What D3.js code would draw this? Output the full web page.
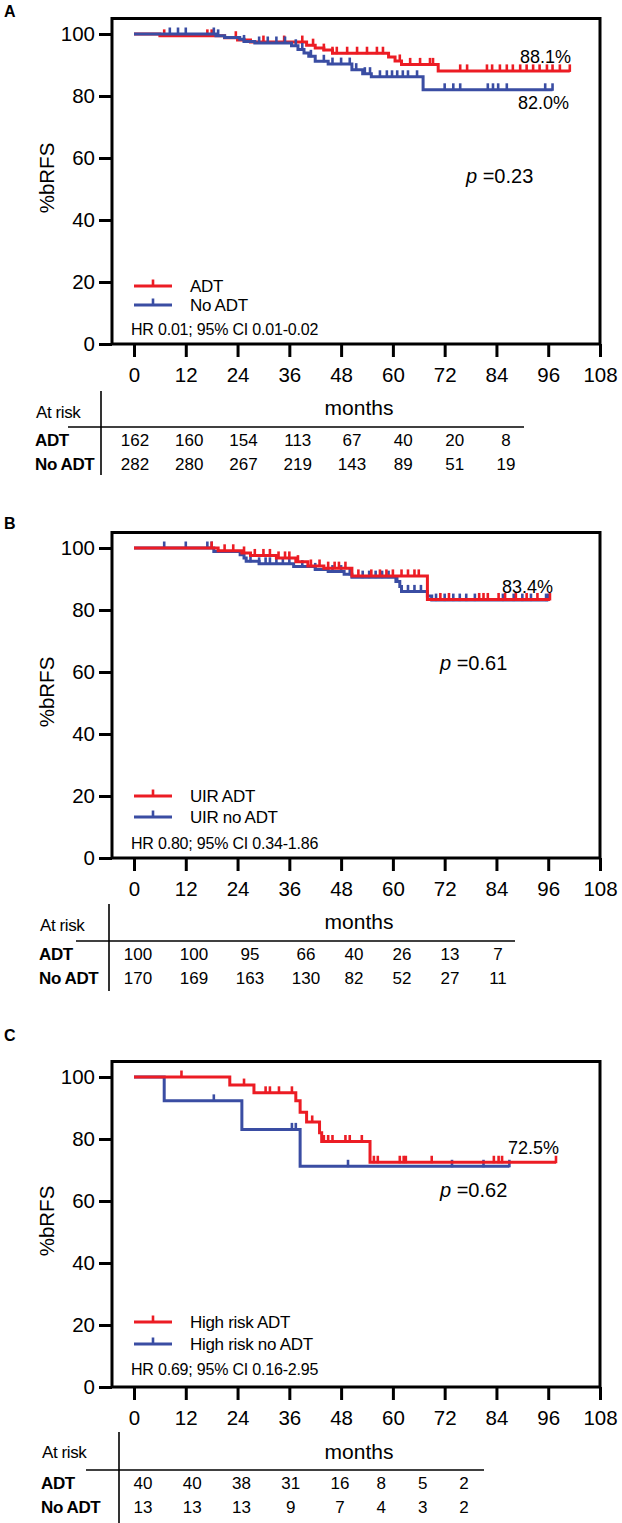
<!DOCTYPE html>
<html><head><meta charset="utf-8">
<script src="https://cdn.jsdelivr.net/npm/d3@7"></script>
<style>
body{margin:0;background:#fff}
svg text{font-family:"Liberation Sans",Arial,Helvetica,sans-serif;fill:#000}
</style></head><body>
<svg id="c" width="622" height="1523"></svg>
<script>
// ---------- data ----------
const monthTicks = [0,12,24,36,48,60,72,84,96,108];
const pctTicks = [0,20,40,60,80,100];
const riskMonths = [0,12,24,36,48,60,72,84];

// Panel A
const A_adtSteps = [[0,100],[6,99.4],[21,98.8],[24,98.1],[27,97.4],[40,96.4],[42,95.5],[44,94.8],[46,93.8],[59,92.6],[60.5,91.3],[62,90.2],[70.5,88.1]];
const A_adtEnd = 101;
const A_adtCens = [7,17,18,23.6,30,34.8,39,41.5,44,46,47,49.4,51.7,54,56.3,57.7,61.6,64,66.3,68.6,69.3,75.6,77.2,81.8,83,84.8,86.4,87.8,89.5,91,92.5,94,95.7,97,98.7,101];
const A_noSteps = [[0,100],[19,99.4],[21,98.9],[24.5,98.3],[25.5,97.6],[28,97.1],[36.5,96.2],[38,95.0],[39.4,93.9],[40.5,92.8],[42,91.2],[45,90.3],[50.5,88.5],[53,87.2],[55,86.2],[67,82.0]];
const A_noEnd = 97;
const A_noCens = [8.3,10.2,12,18.5,19.5,25.5,29,31,33,35,37.5,39,41,44,46,48,50,51.5,53.5,54.7,57,58.6,59.8,61,62.3,63.5,65.6,72,74,75.6,82,83.2,84.4,86.4,95.3,97];
const A_riskAdt = [162,160,154,113,67,40,20,8];
const A_riskNo = [282,280,267,219,143,89,51,19];

// Panel B
const B_adtSteps = [[0,100],[19.5,99.1],[25,98.4],[27,97.6],[33,96.8],[37.5,95.6],[40.3,94.2],[44,93.5],[50.5,91.0],[68,83.4]];
const B_adtEnd = 96.4;
const B_adtCens = [18,21,23,25.5,28,30,31.5,33.5,35,36,38,41,43,45,46.5,47.5,49,52,55,57,58.5,60,62,63.5,65,66,71,73,80,81,82,84.5,86,88.5,91,93.5,96.4];
const B_noSteps = [[0,100],[18.5,98.9],[24.6,97.8],[25.5,96.8],[26,95.7],[29,94.9],[37,94.0],[42,93.1],[45,92.4],[48.7,91.5],[50.5,90.6],[60.7,89.2],[61.6,87.6],[62,86.0],[68,84.5],[69,83.2]];
const B_noEnd = 96;
const B_noCens = [7,12,17,18,27,29,30.5,31.5,33,34.5,36,39,42,46,48,50,53,54.5,56,57.5,59,61,63.5,65,66.5,70,72,74,75.5,77,79,85.5,88,90,92,95.5,96];
const B_riskAdt = [100,100,95,66,40,26,13,7];
const B_riskNo = [170,169,163,130,82,52,27,11];

// Panel C
const C_adtSteps = [[0,100],[22.2,97.4],[27.8,94.9],[37.5,92.3],[38.5,88.6],[40,85.5],[43,82.0],[43.5,79.2],[54.7,72.5]];
const C_adtEnd = 97.8;
const C_adtCens = [11,25.5,30.5,31.5,33.6,36.6,41.3,44,45,46,49,50,52.8,55.6,56.5,61.6,62.5,63,69,83.4,84.5,85.3,97.8];
const C_noSteps = [[0,100],[7,92.3],[25,83.1],[38.5,71.2]];
const C_noEnd = 87;
const C_noCens = [18.5,36.6,37.5,49.6,73.7,81,87];
const C_riskAdt = [40,40,38,31,16,8,5,2];
const C_riskNo = [13,13,13,9,7,4,3,2];

// ---------- styling / layout ----------
const RED = "#EC1C24", BLUE = "#3A4DA3";
const panels = [
  {label:"A", y0:344, labelY:11,
   series:[{name:"ADT",steps:A_adtSteps,end:A_adtEnd,cens:A_adtCens,color:RED},
           {name:"No ADT",steps:A_noSteps,end:A_noEnd,cens:A_noCens,color:BLUE}],
   drawOrder:[0,1], legendDy:[-58,-39], hrDy:-15,
   hr:"HR 0.01; 95% CI 0.01-0.02", p:"=0.23", pX:466, pDy:-168,
   pcts:[{t:"88.1%",x:520,dy:-287},{t:"82.0%",x:518,dy:-241}],
   risk:[A_riskAdt,A_riskNo], vX:101, vTop:47, vBot:131, hl:[68,524], leftX:36,
   colDom:[0,48,84], colRange:[135,352,506], atRiskDy:68, monthsDy:64},
  {label:"B", y0:858, labelY:523,
   series:[{name:"UIR ADT",steps:B_adtSteps,end:B_adtEnd,cens:B_adtCens,color:RED},
           {name:"UIR no ADT",steps:B_noSteps,end:B_noEnd,cens:B_noCens,color:BLUE}],
   drawOrder:[1,0], legendDy:[-62,-41], hrDy:-15,
   hr:"HR 0.80; 95% CI 0.34-1.86", p:"=0.61", pX:440, pDy:-195,
   pcts:[{t:"83.4%",x:502,dy:-271}],
   risk:[B_riskAdt,B_riskNo], vX:109, vTop:46, vBot:133, hl:[76,515], leftX:40,
   colDom:[0,36,84], colRange:[138,306,498], atRiskDy:67, monthsDy:64},
  {label:"C", y0:1387, labelY:1035,
   series:[{name:"High risk ADT",steps:C_adtSteps,end:C_adtEnd,cens:C_adtCens,color:RED},
           {name:"High risk no ADT",steps:C_noSteps,end:C_noEnd,cens:C_noCens,color:BLUE}],
   drawOrder:[1,0], legendDy:[-65,-43], hrDy:-18,
   hr:"HR 0.69; 95% CI 0.16-2.95", p:"=0.62", pX:440, pDy:-197,
   pcts:[{t:"72.5%",x:508,dy:-239}],
   risk:[C_riskAdt,C_riskNo], vX:119, vTop:45, vBot:140, hl:[86,484], leftX:42,
   colDom:[0,48,84], colRange:[143,340,464], atRiskDy:65, monthsDy:65}
];

const svg = d3.select("#c");
const x = d3.scaleLinear().domain([0,108]).range([134,600]);
const FRAME_LEFT = -5.1, FRAME_TOP = 105;

panels.forEach(P => {
  const y = d3.scaleLinear().domain([0,100]).range([P.y0, P.y0-310]);
  const g = svg.append("g");

  g.append("text").attr("x",4).attr("y",P.labelY).attr("dy","0.35em")
    .attr("font-size",16).attr("font-weight","bold").text(P.label);

  // frame
  g.append("rect").attr("x",x(FRAME_LEFT)).attr("y",y(FRAME_TOP))
    .attr("width",x(108)-x(FRAME_LEFT)).attr("height",y(0)-y(FRAME_TOP))
    .attr("fill","none").attr("stroke","#000").attr("stroke-width",3);

  // y axis
  const ya = g.append("g").attr("transform",`translate(${x(FRAME_LEFT)},0)`)
    .call(d3.axisLeft(y).tickValues(pctTicks).tickSize(13).tickPadding(4));
  ya.select(".domain").remove();
  ya.selectAll("line").attr("stroke-width",3);
  ya.selectAll("text").attr("font-size",20.5).attr("font-family",null);

  // x axis
  const xa = g.append("g").attr("transform",`translate(0,${P.y0})`)
    .call(d3.axisBottom(x).tickValues(monthTicks).tickSize(13).tickPadding(10));
  xa.select(".domain").remove();
  xa.selectAll("line").attr("stroke-width",3);
  xa.selectAll("text").attr("font-size",20.5).attr("font-family",null);

  // y title
  g.append("text").attr("transform",`translate(47,${P.y0-166}) rotate(-90)`)
    .attr("text-anchor","middle").attr("dy","0.35em").attr("font-size",20.5).text("%bRFS");

  // curves
  const line = d3.line().x(d=>x(d[0])).y(d=>y(d[1])).curve(d3.curveStepAfter);
  const levelAt = (steps,t) => { let v = steps[0][1]; steps.forEach(s => { if (s[0] <= t) v = s[1]; }); return v; };
  P.drawOrder.forEach(i => {
    const s = P.series[i];
    const pts = s.steps.concat([[s.end, s.steps[s.steps.length-1][1]]]);
    g.append("path").attr("d",line(pts)).attr("fill","none")
      .attr("stroke",s.color).attr("stroke-width",3);
    g.selectAll(null).data(s.cens).enter().append("line")
      .attr("x1",d=>x(d)).attr("x2",d=>x(d))
      .attr("y1",d=>y(levelAt(s.steps,d))+1).attr("y2",d=>y(levelAt(s.steps,d))-6.5)
      .attr("stroke",s.color).attr("stroke-width",2.6);
  });

  // legend
  P.series.forEach((s,i) => {
    const ly = P.y0 + P.legendDy[i];
    g.append("line").attr("x1",134).attr("x2",172).attr("y1",ly).attr("y2",ly)
      .attr("stroke",s.color).attr("stroke-width",3);
    g.append("line").attr("x1",153).attr("x2",153).attr("y1",ly).attr("y2",ly-6.5)
      .attr("stroke",s.color).attr("stroke-width",2.6);
    g.append("text").attr("x",190).attr("y",ly).attr("dy","0.35em")
      .attr("font-size",17).attr("letter-spacing","-0.3").text(s.name);
  });
  g.append("text").attr("x",131).attr("y",P.y0+P.hrDy).attr("dy","0.35em")
    .attr("font-size",16).attr("letter-spacing","-0.2").text(P.hr);

  // p value
  const pt = g.append("text").attr("x",P.pX).attr("y",P.y0+P.pDy).attr("dy","0.35em").attr("font-size",20);
  pt.append("tspan").attr("font-style","italic").text("p");
  pt.append("tspan").text(" " + P.p);

  // percentage labels
  P.pcts.forEach(l => {
    g.append("text").attr("x",l.x).attr("y",P.y0+l.dy).attr("dy","0.35em")
      .attr("font-size",18).text(l.t);
  });

  // at-risk table
  const col = d3.scaleLinear().domain(P.colDom).range(P.colRange);
  g.append("line").attr("x1",P.vX).attr("x2",P.vX).attr("y1",P.y0+P.vTop).attr("y2",P.y0+P.vBot)
    .attr("stroke","#000").attr("stroke-width",1.6);
  g.append("line").attr("x1",P.hl[0]).attr("x2",P.hl[1]).attr("y1",P.y0+83).attr("y2",P.y0+83)
    .attr("stroke","#000").attr("stroke-width",1.6);
  g.append("text").attr("x",P.leftX).attr("y",P.y0+P.atRiskDy).attr("dy","0.35em")
    .attr("font-size",17).attr("letter-spacing","-0.4").text("At risk");
  g.append("text").attr("x",(x(0)+x(108))/2 - 8).attr("y",P.y0+P.monthsDy).attr("dy","0.35em")
    .attr("text-anchor","middle").attr("font-size",21).text("months");
  const rowNames = ["ADT","No ADT"], rowDy = [96,120];
  rowNames.forEach((rn,r) => {
    g.append("text").attr("x",P.leftX-1).attr("y",P.y0+rowDy[r]).attr("dy","0.35em")
      .attr("font-size",17).attr("font-weight","bold").attr("letter-spacing","-0.4").text(rn);
    g.selectAll(null).data(P.risk[r]).enter().append("text")
      .attr("x",(d,i)=>col(riskMonths[i])).attr("y",P.y0+rowDy[r]).attr("dy","0.35em")
      .attr("text-anchor","middle").attr("font-size",17).text(d=>d);
  });
});
</script>
</body></html>
